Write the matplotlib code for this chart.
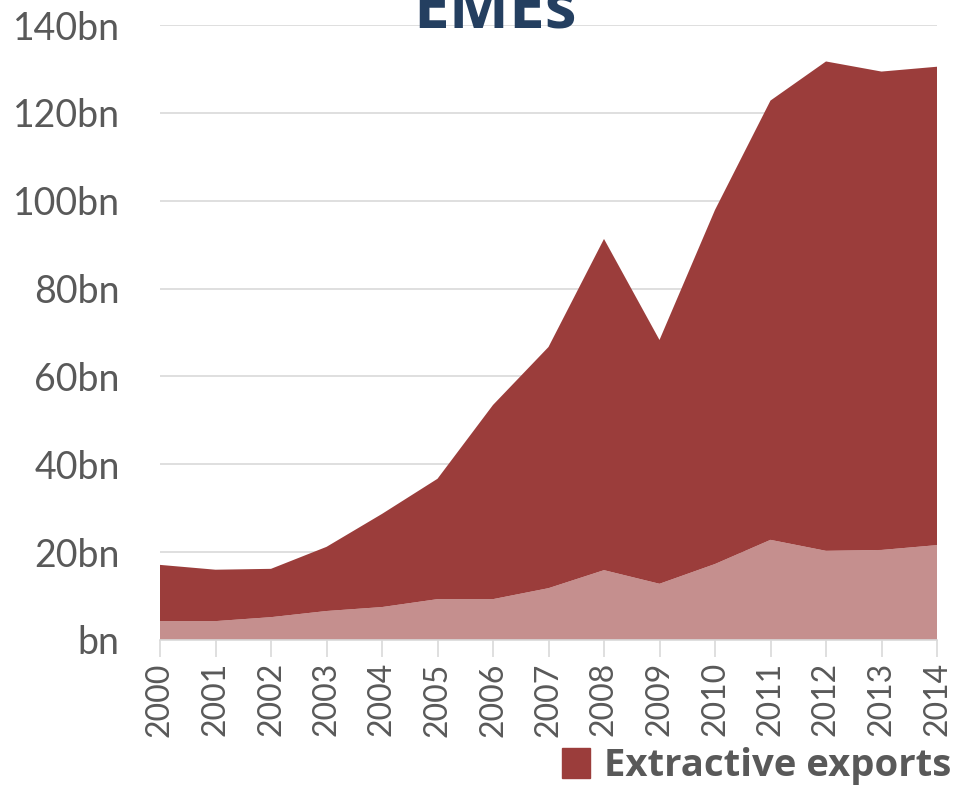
import matplotlib.pyplot as plt
from matplotlib.patches import Patch
from matplotlib.ticker import FuncFormatter

years = list(range(2000, 2015))
# lower (light) band and total height of the stacked area, in bn
lower = [4.3, 4.3, 5.2, 6.6, 7.5, 9.3, 9.3, 11.8, 15.9, 12.8, 17.3, 22.8, 20.3, 20.5, 21.6]
total = [17.1, 16.0, 16.2, 21.2, 28.7, 36.7, 53.5, 66.7, 91.3, 68.3, 97.9, 122.8, 131.7, 129.4, 130.5]
extractive = [t - l for t, l in zip(total, lower)]

dark = '#9B3D3B'
light = '#C58F8E'
grey = '#595959'

plt.rcParams['font.family'] = ['Lato', 'DejaVu Sans']

fig = plt.figure(figsize=(9.55, 7.98), dpi=100)
ax = fig.add_axes([160 / 955, 1 - 640 / 798, (937 - 160) / 955, (640 - 25) / 798])

ax.stackplot(years, lower, extractive, colors=[light, dark], linewidth=0)

ax.set_xlim(2000, 2014)
ax.set_ylim(0, 140)
ax.set_yticks(range(0, 141, 20))
ax.yaxis.set_major_formatter(FuncFormatter(lambda v, p: 'bn' if v == 0 else f'{int(v)}bn'))
ax.set_xticks(years)
ax.set_xticklabels([str(y) for y in years], rotation=90)

ax.grid(axis='y', color='#D9D9D9', linewidth=1.2)
ax.set_axisbelow(True)
for s in ['top', 'right', 'left']:
    ax.spines[s].set_visible(False)
ax.spines['bottom'].set_color('#D9D9D9')
ax.spines['bottom'].set_linewidth(1.2)
ax.tick_params(axis='y', length=0, labelsize=27, labelcolor=grey, pad=29)
ax.tick_params(axis='x', length=12, width=1.2, color='#D9D9D9', labelsize=23, labelcolor=grey, pad=4)

fig.text(0.518, 0.945, 'EMEs', ha='center', va='bottom', fontsize=46, fontweight='bold',
         color='#243F60', family=['Open Sans', 'DejaVu Sans'])

leg = fig.legend(handles=[Patch(color=dark)], labels=['Extractive exports'],
                 loc='lower left', bbox_to_anchor=(0.552, -0.027), frameon=False,
                 handlelength=0.75, handleheight=0.8, handletextpad=0.35,
                 prop={'size': 27.5, 'weight': 'bold', 'family': ['Open Sans', 'DejaVu Sans']})
for t in leg.get_texts():
    t.set_color(grey)

fig.savefig('out.png', dpi=100)
